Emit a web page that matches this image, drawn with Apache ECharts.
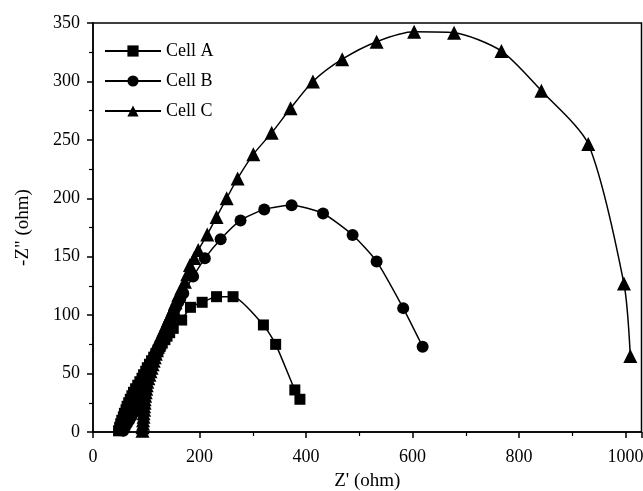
<!DOCTYPE html>
<html>
<head>
<meta charset="utf-8">
<script src="https://cdn.jsdelivr.net/npm/echarts@6/dist/echarts.min.js"></script>
<style>
html,body{margin:0;padding:0;background:#fff;}
#chart{width:643px;height:491px;}
</style>
</head>
<body>
<div id="chart"></div>
<script>
// Data
var seriesNames = ['Cell A', 'Cell B', 'Cell C'];
var xTicks = [0, 200, 400, 600, 800, 1000];
var yTicks = [0, 50, 100, 150, 200, 250, 300, 350];

var cellA_re = [48, 50, 52, 54, 57, 59, 62, 64, 67, 70, 73, 76, 80, 84, 88, 92, 95, 99, 102, 106, 110, 114, 118, 122, 126, 130, 135, 139, 144, 150.7, 166.5, 183, 205, 232, 263, 320, 343, 379, 388.6];
var cellA_im = [1, 4, 7, 10, 13, 16, 19, 22, 25, 28, 31, 34, 37, 40, 43, 46, 49, 52, 55, 58, 61, 64, 67, 70, 73, 76, 79, 82, 85, 88.7, 95.8, 106.7, 111, 115.8, 115.8, 91.6, 75, 36, 28];

var cellB_re = [57, 60, 64, 68, 72, 75, 78, 80, 82, 84, 86, 88, 90, 92, 94, 96, 99, 102, 105, 108, 111, 114, 117, 120, 123, 126, 129, 132, 135, 138, 141, 144, 147, 150, 152, 156, 160, 164, 169.5, 188, 210, 239.7, 277, 321.6, 373, 432, 487.5, 532.6, 582.5, 619];
var cellB_im = [1, 4, 7, 10, 13, 16, 19, 22, 25, 28, 31, 34, 37, 40, 43, 46, 49, 52, 55, 58, 61, 64, 67, 70, 73, 76, 79, 82, 85, 88, 91, 94, 97, 100, 103, 107, 111, 114, 118.7, 133, 148.6, 165, 181, 190.5, 194, 187, 168.6, 146, 106, 73];

var cellC_re = [93, 93, 94, 94, 95, 95, 96, 96, 97, 97, 98, 99, 100, 101, 102, 104, 106, 108, 110, 112, 114, 116, 118, 120, 122, 125, 127, 129, 132, 136, 141, 145, 150.7, 155, 160, 166, 172.7, 177, 182, 190, 197.7, 214.6, 232, 251, 271.6, 301, 335.5, 371, 413, 468, 532.6, 603, 678, 767, 842, 930, 997, 1009];
var cellC_im = [1, 4, 7, 10, 13, 16, 19, 22, 25, 28, 31, 34, 37, 40, 43, 46, 49, 52, 55, 58, 61, 64, 67, 70, 73, 76, 79, 82, 85.8, 90, 95.8, 100, 105.8, 111, 117, 123, 128.6, 135, 143, 149, 155.7, 169, 184, 200, 217, 237.6, 256, 277, 300, 319, 334, 342.5, 341.7, 326, 292, 246.5, 127, 65];

function pairs(xs, ys) {
  var out = [];
  for (var i = 0; i < xs.length; i++) out.push([xs[i], ys[i]]);
  return out;
}

var FONT = 'Liberation Serif';
var chart = echarts.init(document.getElementById('chart'), null, {renderer: 'canvas'});

function mkSeries(name, data, symbol, size, smooth) {
  return {
    name: name,
    type: 'line',
    data: data,
    symbol: symbol,
    symbolSize: size,
    showSymbol: true,
    showAllSymbol: true,
    smooth: smooth,
    lineStyle: {color: '#000', width: 1.5},
    itemStyle: {color: '#000', borderWidth: 0},
    emphasis: {disabled: true},
    animation: false,
    z: 3
  };
}

var option = {
  animation: false,
  backgroundColor: '#fff',
  grid: {
    left: 93, right: 1.5, top: 23, bottom: 59,
    containLabel: false,
    outerBoundsMode: 'none',
    show: true, borderColor: '#000', borderWidth: 1.5, backgroundColor: 'transparent'
  },
  legend: {
    left: 99, top: 37,
    orient: 'vertical',
    itemWidth: 56, itemHeight: 14, itemGap: 12,
    data: seriesNames,
    textStyle: {fontFamily: FONT, fontSize: 18, color: '#000'},
    inactiveColor: '#000',
    selectedMode: false
  },
  xAxis: {
    type: 'value',
    min: 0, max: 1030, interval: 200,
    name: "Z' (ohm)",
    nameLocation: 'middle',
    nameGap: 40,
    nameTextStyle: {fontFamily: FONT, fontSize: 19, color: '#000'},
    axisLine: {show: true, onZero: false, lineStyle: {color: '#000', width: 1.5}},
    axisTick: {show: true, inside: false, length: 6, lineStyle: {color: '#000', width: 1.5}},
    minorTick: {show: true, splitNumber: 2, length: 4, lineStyle: {color: '#000', width: 1.2}},
    axisLabel: {
      fontFamily: FONT, fontSize: 18, color: '#000', margin: 16, showMaxLabel: false,
      formatter: function (v) { return xTicks.indexOf(v) >= 0 ? String(v) : ''; }
    },
    splitLine: {show: false}
  },
  yAxis: {
    type: 'value',
    min: 0, max: 350, interval: 50,
    name: '-Z" (ohm)',
    nameLocation: 'middle',
    nameGap: 60,
    nameRotate: 90,
    nameTextStyle: {fontFamily: FONT, fontSize: 19, color: '#000'},
    axisLine: {show: true, onZero: false, lineStyle: {color: '#000', width: 1.5}},
    axisTick: {show: true, inside: false, length: 6, lineStyle: {color: '#000', width: 1.5}},
    minorTick: {show: true, splitNumber: 2, length: 4, lineStyle: {color: '#000', width: 1.2}},
    axisLabel: {
      fontFamily: FONT, fontSize: 18, color: '#000', margin: 13,
      formatter: function (v) { return yTicks.indexOf(v) >= 0 ? String(v) : ''; }
    },
    splitLine: {show: false}
  },
  series: [
    mkSeries('Cell A', pairs(cellA_re, cellA_im), 'rect', 11, 0.2),
    mkSeries('Cell B', pairs(cellB_re, cellB_im), 'circle', 12, 0.2),
    mkSeries('Cell C', pairs(cellC_re, cellC_im), 'triangle', 14, 0.25)
  ]
};
chart.setOption(option);
</script>
</body>
</html>
